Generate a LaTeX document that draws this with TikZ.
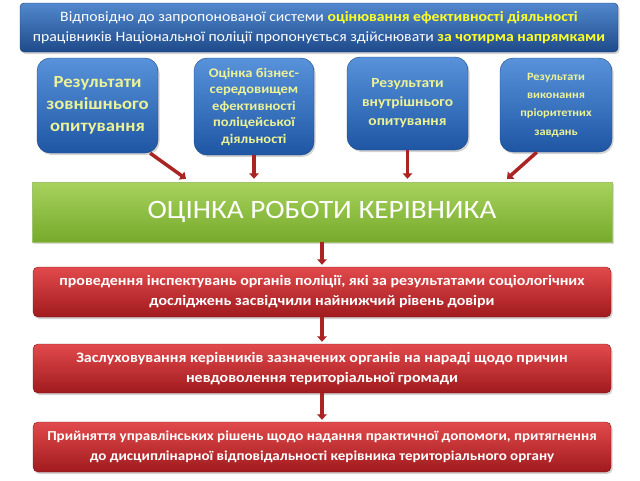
\documentclass[tikz,border=0pt]{standalone}
\usepackage{fontspec}
\setmainfont{Carlito}[FakeStretch=1.1]
\usetikzlibrary{arrows.meta,shadows}
\definecolor{banertop}{RGB}{82,136,206}
\definecolor{banerbot}{RGB}{30,74,138}
\definecolor{blocktop}{RGB}{88,146,218}
\definecolor{blockbot}{RGB}{30,86,164}
\definecolor{blocktext}{RGB}{236,242,150}
\definecolor{zeltop}{RGB}{168,210,92}
\definecolor{zelbot}{RGB}{118,170,44}
\definecolor{chervtop}{RGB}{226,74,76}
\definecolor{chervbot}{RGB}{160,26,30}
\definecolor{strilkacol}{RGB}{170,36,36}
\definecolor{zhovtyi}{RGB}{255,255,40}

\begin{document}
\begin{tikzpicture}[x=1pt,y=-1pt,
  baner/.style={rounded corners=4pt,top color=banertop,bottom color=banerbot,draw=banerbot!80!black,
    minimum width=598pt,minimum height=49pt,inner sep=0pt,align=center,text=white,
    font=\fontsize{14.3}{20}\selectfont,drop shadow={shadow xshift=1.5pt,shadow yshift=-2pt,opacity=0.35}},
  blok/.style={rounded corners=13pt,top color=blocktop,bottom color=blockbot,draw=blockbot!80!black,
    inner sep=0pt,align=center,text=blocktext,drop shadow={shadow xshift=1.5pt,shadow yshift=-2pt,opacity=0.35}},
  zel/.style={top color=zeltop,bottom color=zelbot,draw=zelbot!70!white,minimum width=580pt,minimum height=60pt,
    inner sep=0pt,text=white,font=\fontsize{26.5}{30}\selectfont,drop shadow={shadow xshift=1.5pt,shadow yshift=-2pt,opacity=0.3}},
  cherv/.style={rounded corners=5pt,top color=chervtop,bottom color=chervbot,draw=chervbot!80!black,
    minimum width=578pt,minimum height=50pt,inner sep=0pt,align=center,text=white,
    font=\bfseries\fontsize{14.5}{20}\selectfont,drop shadow={shadow xshift=1.5pt,shadow yshift=-2pt,opacity=0.35}},
  strilka/.style={line width=3.5pt,strilkacol,-{Triangle[length=5.5pt,width=9.5pt]}}]
\useasboundingbox (0,0) rectangle (640,480);

\node[baner] (top) at (319,27.5) {Відповідно до запропонованої системи \textcolor{zhovtyi}{\bfseries оцінювання ефективності діяльності}\\
працівників Національної поліції пропонується здійснювати \textcolor{zhovtyi}{\bfseries за чотирма напрямками}};

\node[blok,minimum width=121pt,minimum height=95pt,font=\bfseries\fontsize{17}{22}\selectfont] (zovn) at (97.5,105.5) {Результати\\зовнішнього\\опитування};
\node[blok,minimum width=120pt,minimum height=97pt,font=\bfseries\fontsize{13.2}{16.5}\selectfont] (biznes) at (254,106.5) {Оцінка бізнес-\\середовищем\\ефективності\\поліцейської\\діяльності};
\node[blok,minimum width=121pt,minimum height=93pt,font=\bfseries\fontsize{14}{19}\selectfont] (vnutr) at (407.5,103.5) {Результати\\внутрішнього\\опитування};
\node[blok,minimum width=112pt,minimum height=94pt,font=\bfseries\fontsize{11.2}{18.3}\selectfont] (priorytet) at (556,105) {Результати\\виконання\\пріоритетних\\завдань};

\node[zel] (ocinka) at (322,212) {ОЦІНКА РОБОТИ КЕРІВНИКА};

\node[cherv] (inspekt) at (322,292) {проведення інспектувань органів поліції, які за результатами соціологічних\\досліджень засвідчили найнижчий рівень довіри};
\node[cherv,minimum height=49pt] (zasluh) at (322,368.5) {Заслуховування керівників зазначених органів на нараді щодо причин\\невдоволення територіальної громади};
\node[cherv,font=\bfseries\fontsize{13.65}{20}\selectfont] (rishennia) at (322,447) {Прийняття управлінських рішень щодо надання практичної допомоги, притягнення\\до дисциплінарної відповідальності керівника територіального органу};

\draw[strilka] ([shift={(-8,0)}]zovn.south east) -- ([shift={(-136,-3)}]ocinka.north);
\draw[strilka,shorten >=3pt] (biznes) -- (biznes |- ocinka.north);
\draw[strilka,shorten >=3pt] (vnutr) -- (vnutr |- ocinka.north);
\draw[strilka] ([shift={(37,0)}]priorytet.south west) -- ([shift={(185,-3)}]ocinka.north);
\draw[strilka,shorten >=2pt] (ocinka) -- (inspekt);
\draw[strilka,shorten >=2pt] (inspekt) -- (zasluh);
\draw[strilka,shorten >=2pt] (zasluh) -- (rishennia);
\end{tikzpicture}
\end{document}
